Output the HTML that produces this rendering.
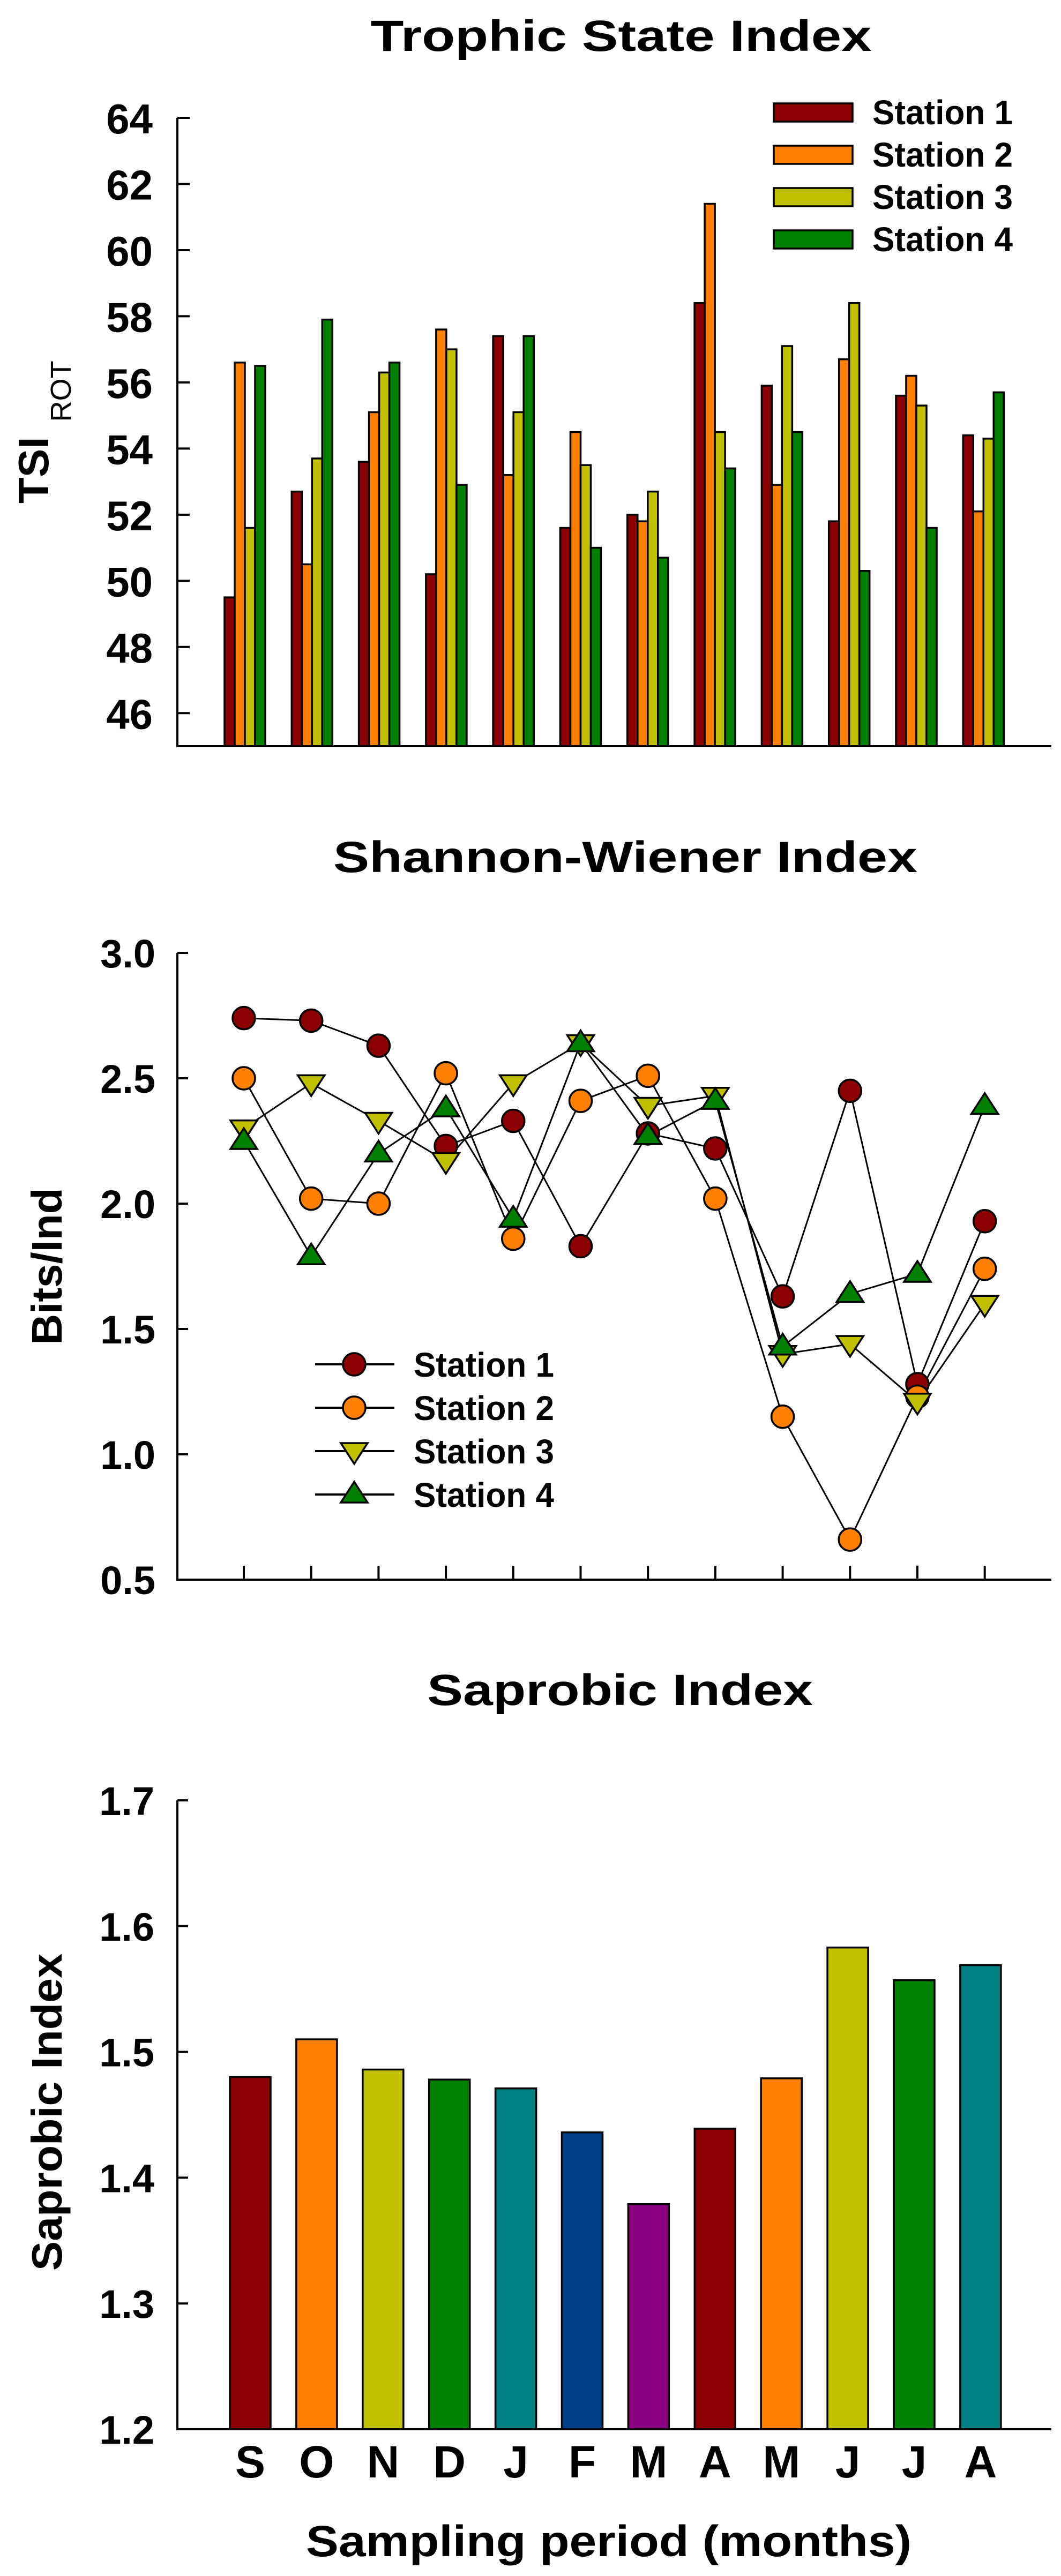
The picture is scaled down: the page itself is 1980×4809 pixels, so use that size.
<!DOCTYPE html>
<html><head><meta charset="utf-8"><style>
html,body{margin:0;padding:0;background:#fff}
svg{display:block}
text{font-family:"Liberation Sans",sans-serif;font-weight:bold;fill:#000}
</style></head><body>
<svg id="fig" width="1980" height="4809" viewBox="0 0 1980 4809" xmlns="http://www.w3.org/2000/svg">
<g id="c1"></g>
<g id="c2"></g>
<g id="c3"></g>
</svg>
<script>
const months = ["S","O","N","D","J","F","M","A","M","J","J","A"];
const stations = ["Station 1","Station 2","Station 3","Station 4"];
const stationColors = ["#8b0000","#ff8000","#c0c000","#008000"];
const tsiS1 = [49.5,52.7,53.6,50.2,57.4,51.6,52.0,58.4,55.9,51.8,55.6,54.4];
const tsiS2 = [56.6,50.5,55.1,57.6,53.2,54.5,51.8,61.4,52.9,56.7,56.2,52.1];
const tsiS3 = [51.6,53.7,56.3,57.0,55.1,53.5,52.7,54.5,57.1,58.4,55.3,54.3];
const tsiS4 = [56.5,57.9,56.6,52.9,57.4,51.0,50.7,53.4,54.5,50.3,51.6,55.7];
const tsiTicks = [46,48,50,52,54,56,58,60,62,64];
const shS1 = [2.74,2.73,2.63,2.23,2.33,1.83,2.28,2.22,1.63,2.45,1.28,1.93];
const shS2 = [2.50,2.02,2.00,2.52,1.86,2.41,2.51,2.02,1.15,0.66,1.23,1.74];
const shS3 = [2.30,2.48,2.33,2.17,2.48,2.64,2.39,2.43,1.40,1.44,1.21,1.60];
const shS4 = [2.25,1.79,2.20,2.38,1.94,2.64,2.27,2.41,1.43,1.64,1.72,2.39];
const shTicks = ["0.5","1.0","1.5","2.0","2.5","3.0"];
const sapValues = [1.480,1.510,1.486,1.478,1.471,1.436,1.379,1.439,1.479,1.583,1.557,1.569];
const sapColors = ["#8b0000","#ff8000","#c0c000","#008000","#008080","#003f87","#8b0080","#8b0000","#ff8000","#c0c000","#008000","#008080"];
const sapTicks = ["1.2","1.3","1.4","1.5","1.6","1.7"];

const NS="http://www.w3.org/2000/svg";
function mk(parent,tag,attrs,txt){const e=document.createElementNS(NS,tag);for(const k in attrs)e.setAttribute(k,attrs[k]);if(txt!==undefined)e.textContent=txt;parent.appendChild(e);return e;}

// ---------- Chart 1 ----------
(function(){
  const g=document.getElementById('c1');
  const X0=331, X1=1962, yMin=45, yMax=64, Y0=1393, Ytop=220;
  const y=v=>Y0-(v-yMin)/(yMax-yMin)*(Y0-Ytop);
  const gx=i=>457+i*125.3;
  const t=mk(g,'text',{x:1159,y:95,'font-size':82,'text-anchor':'middle',textLength:935,lengthAdjust:'spacingAndGlyphs'},'Trophic State Index');
  
  
  const series=[tsiS1,tsiS2,tsiS3,tsiS4];
  series.forEach((arr,s)=>{arr.forEach((v,i)=>{
    const r=mk(g,'rect',{x:gx(i)-38+s*19,y:y(v),width:19,height:Y0-y(v),fill:stationColors[s],stroke:'#000','stroke-width':3.5});
    
    
  });});
  const ax=mk(g,'path',{d:`M${X0},${Ytop}V${Y0}H${X1}`,fill:'none',stroke:'#000','stroke-width':4});
  
  
  tsiTicks.forEach(v=>{
    mk(g,'line',{x1:X0,x2:X0+23,y1:y(v),y2:y(v),stroke:'#000','stroke-width':4});
    const l=mk(g,'text',{x:285,y:y(v)+29,'font-size':78,'text-anchor':'end'},String(v));
    
    
  });
  const yt=mk(g,'text',{transform:'translate(90,940) rotate(-90)','font-size':80},'');
  
  
  mk(yt,'tspan',{},'TSI ');
  mk(yt,'tspan',{'font-size':54,'font-weight':'normal',dy:42,dx:6},'ROT');
  stations.forEach((s,k)=>{
    const cy=210+k*79;
    const sw=mk(g,'rect',{x:1444,y:cy-17,width:147,height:34,fill:stationColors[k],stroke:'#000','stroke-width':3.5});
    
    
    const lt=mk(g,'text',{x:1628,y:cy+22,'font-size':64,textLength:262,lengthAdjust:'spacingAndGlyphs'},s);
    
    
  });
})();

// ---------- Chart 2 ----------
(function(){
  const g=document.getElementById('c2');
  const X0=331, X1=1962, yMin=0.5, yMax=3.0, Y0=2949, Ytop=1779;
  const y=v=>Y0-(v-yMin)/(yMax-yMin)*(Y0-Ytop);
  const px=i=>455+i*125.7;
  const t=mk(g,'text',{x:1167,y:1628,'font-size':82,'text-anchor':'middle',textLength:1090,lengthAdjust:'spacingAndGlyphs'},'Shannon-Wiener Index');
  
  
  const ax=mk(g,'path',{d:`M${X0},${Ytop}V${Y0}H${X1}`,fill:'none',stroke:'#000','stroke-width':4});
  
  
  shTicks.forEach(v=>{
    mk(g,'line',{x1:X0,x2:X0+20,y1:y(+v),y2:y(+v),stroke:'#000','stroke-width':4});
    const l=mk(g,'text',{x:290,y:y(+v)+27,'font-size':74,'text-anchor':'end'},v);
    
    
  });
  months.forEach((m,i)=>{mk(g,'line',{x1:px(i),x2:px(i),y1:Y0,y2:Y0-26,stroke:'#000','stroke-width':4});});
  const yt=mk(g,'text',{transform:'translate(115,2364) rotate(-90)','font-size':80,'text-anchor':'middle'},'Bits/Ind');
  
  
  const series=[shS1,shS2,shS3,shS4];
  const fills=["#8b0000","#ff8000","#c0c000","#008000"];
  function marker(parent,kind,cx,cy,fill){
    if(kind<2) return mk(parent,'circle',{cx:cx,cy:cy,r:21,fill:fill,stroke:'#000','stroke-width':3.5});
    const r=25;
    if(kind===2) return mk(parent,'polygon',{points:`${cx-r},${cy-r*0.6} ${cx+r},${cy-r*0.6} ${cx},${cy+r*0.95}`,fill:fill,stroke:'#000','stroke-width':3.5});
    return mk(parent,'polygon',{points:`${cx-r},${cy+r*0.6} ${cx+r},${cy+r*0.6} ${cx},${cy-r*0.95}`,fill:fill,stroke:'#000','stroke-width':3.5});
  }
  series.forEach((arr,s)=>{
    const pl=mk(g,'polyline',{points:arr.map((v,i)=>px(i)+','+y(v)).join(' '),fill:'none',stroke:'#000','stroke-width':3});
    
    
  });
  series.forEach((arr,s)=>{arr.forEach((v,i)=>{
    const m=marker(g,s,px(i),y(v),fills[s]);
    
    
  });});
  stations.forEach((s,k)=>{
    const cy=2547+k*81;
    mk(g,'line',{x1:588,x2:736,y1:cy,y2:cy,stroke:'#000','stroke-width':4});
    const m=marker(g,k,661,cy,fills[k]);
    
    
    const lt=mk(g,'text',{x:772,y:cy+23,'font-size':64,textLength:262,lengthAdjust:'spacingAndGlyphs'},s);
    
    
  });
})();

// ---------- Chart 3 ----------
(function(){
  const g=document.getElementById('c3');
  const X0=331, X1=1962, yMin=1.2, yMax=1.7, Y0=4535, Ytop=3361;
  const y=v=>Y0-(v-yMin)/(yMax-yMin)*(Y0-Ytop);
  const bx=i=>467+i*123.9;
  const t=mk(g,'text',{x:1157,y:3183,'font-size':82,'text-anchor':'middle',textLength:720,lengthAdjust:'spacingAndGlyphs'},'Saprobic Index');
  
  
  sapValues.forEach((v,i)=>{
    const r=mk(g,'rect',{x:bx(i)-38,y:y(v),width:76,height:Y0-y(v),fill:sapColors[i],stroke:'#000','stroke-width':3.5});
    
    
    const l=mk(g,'text',{x:bx(i),y:4625,'font-size':84,'text-anchor':'middle'},months[i]);
    
    
  });
  const ax=mk(g,'path',{d:`M${X0},${Ytop}V${Y0}H${X1}`,fill:'none',stroke:'#000','stroke-width':4});
  
  
  sapTicks.forEach(v=>{
    mk(g,'line',{x1:X0,x2:X0+20,y1:y(+v),y2:y(+v),stroke:'#000','stroke-width':4});
    const l=mk(g,'text',{x:288,y:y(+v)+27,'font-size':74,'text-anchor':'end'},v);
    
    
  });
  const yt=mk(g,'text',{transform:'translate(115,3943) rotate(-90)','font-size':80,'text-anchor':'middle',textLength:592,lengthAdjust:'spacingAndGlyphs'},'Saprobic Index');
  
  
  const xt=mk(g,'text',{x:1136,y:4772,'font-size':82,'text-anchor':'middle',textLength:1130,lengthAdjust:'spacingAndGlyphs'},'Sampling period (months)');
  
  
})();
</script>
</body></html>
